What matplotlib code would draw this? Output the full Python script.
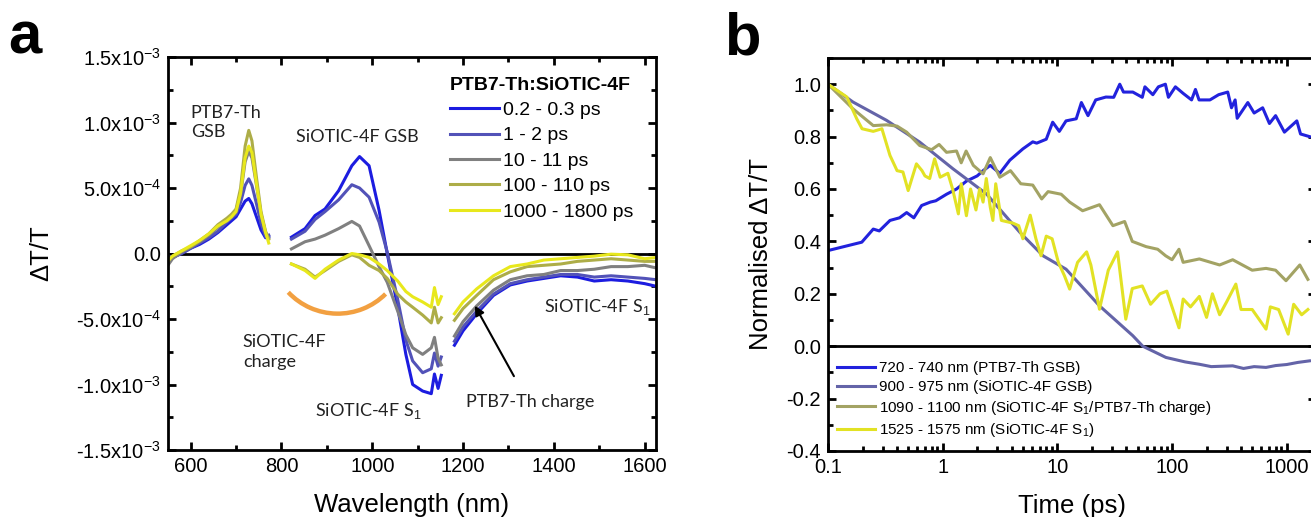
import numpy as np
import matplotlib
matplotlib.use("Agg")
import matplotlib.pyplot as plt
from matplotlib.patches import Arc
from matplotlib.ticker import FixedLocator, MultipleLocator, LogLocator, NullFormatter

plt.rcParams["font.family"] = ["Liberation Sans", "DejaVu Sans"]
plt.rcParams["mathtext.fontset"] = "custom"
plt.rcParams["mathtext.rm"] = "Liberation Sans"
plt.rcParams["mathtext.it"] = "Liberation Sans:italic"
plt.rcParams["mathtext.bf"] = "Liberation Sans:bold"

# ---------------- panel a: spectra (values in units of 1e-4) ----------------
DELAYS = ["0.2 - 0.3 ps", "1 - 2 ps", "10 - 11 ps", "100 - 110 ps", "1000 - 1800 ps"]
COLORS_A = ["#1c1ce0", "#5252b8", "#808080", "#adad48", "#e8e81c"]

wl_vis = [552, 560, 580, 600, 620, 640, 660, 680, 690, 700, 710, 720, 728, 735, 745, 755, 765, 772]
vis_0 = [-0.2, -0.3, 0.0, 0.4, 0.7, 1.1, 1.6, 2.2, 2.5, 2.8, 3.4, 4.0, 4.2, 3.8, 2.8, 1.8, 1.2, 1.3]
vis_1 = [-0.2, -0.3, 0.0, 0.4, 0.8, 1.2, 1.7, 2.4, 2.7, 3.0, 3.9, 5.2, 5.7, 5.2, 3.8, 2.3, 1.3, 1.4]
vis_2 = [-0.8, -0.4, 0.1, 0.5, 0.9, 1.4, 2.0, 2.6, 2.9, 3.3, 4.5, 7.0, 7.8, 7.3, 5.2, 3.0, 1.6, 1.2]
vis_3 = [-0.4, -0.2, 0.2, 0.5, 1.0, 1.5, 2.2, 2.7, 3.0, 3.4, 5.0, 8.2, 9.4, 8.6, 5.8, 3.2, 1.7, 1.1]
vis_4 = [-0.5, -0.2, 0.2, 0.6, 1.0, 1.5, 2.1, 2.5, 2.8, 3.2, 4.6, 7.3, 8.2, 7.7, 5.3, 3.0, 1.6, 0.8]

wl_nir1 = [822, 852, 874, 896, 926, 955, 972, 993, 1015, 1033, 1056, 1074, 1089, 1111, 1130, 1137, 1145, 1152]
nir1_0 = [1.25, 1.9, 2.9, 3.4, 4.8, 6.7, 7.4, 6.7, 3.3, 0.0, -4.1, -7.7, -10.0, -10.5, -10.7, -9.2, -10.3, -9.3]
nir1_1 = [1.1, 1.7, 2.6, 3.2, 4.1, 5.25, 5.0, 4.3, 2.4, 0.1, -3.5, -6.6, -8.2, -9.1, -8.8, -7.6, -8.6, -7.9]
nir1_2 = [0.35, 0.9, 1.1, 1.4, 1.9, 2.45, 2.1, 0.6, -1.0, -2.2, -4.4, -6.2, -7.2, -7.7, -7.2, -6.4, -8.0, -8.5]
nir1_3 = [-0.8, -1.2, -1.8, -1.3, -0.6, -0.1, -0.3, -0.9, -1.3, -1.9, -3.1, -3.7, -4.1, -4.7, -5.3, -4.1, -5.3, -4.9]
nir1_4 = [-0.8, -1.3, -1.9, -1.2, -0.5, 0.0, -0.1, -0.3, -0.8, -1.3, -2.1, -2.9, -3.3, -3.7, -4.1, -2.6, -3.9, -3.3]

wl_nir2 = [1181, 1200, 1230, 1267, 1304, 1341, 1378, 1415, 1452, 1489, 1526, 1563, 1600, 1625]
nir2_0 = [-7.0, -5.9, -4.6, -3.2, -2.4, -2.1, -1.9, -1.7, -1.8, -2.1, -2.0, -2.1, -2.3, -2.5]
nir2_1 = [-6.7, -5.6, -4.4, -3.1, -2.3, -2.0, -1.8, -1.6, -1.6, -1.8, -1.7, -1.8, -1.9, -2.0]
nir2_2 = [-6.3, -5.2, -4.0, -2.8, -2.0, -1.7, -1.6, -1.3, -1.3, -1.2, -1.0, -1.0, -0.9, -1.1]
nir2_3 = [-5.1, -4.2, -3.2, -2.0, -1.4, -1.0, -0.9, -0.8, -0.6, -0.5, -0.4, -0.5, -0.6, -0.6]
nir2_4 = [-4.6, -3.7, -2.7, -1.7, -1.0, -0.8, -0.5, -0.4, -0.3, -0.2, -0.05, -0.1, -0.4, -0.3]

VIS = [vis_0, vis_1, vis_2, vis_3, vis_4]
NIR1 = [nir1_0, nir1_1, nir1_2, nir1_3, nir1_4]
NIR2 = [nir2_0, nir2_1, nir2_2, nir2_3, nir2_4]

# ---------------- panel b: kinetics ----------------
KIN_LABELS = ["720 - 740 nm (PTB7-Th GSB)",
              "900 - 975 nm (SiOTIC-4F GSB)",
              "1090 - 1100 nm (SiOTIC-4F S$_1$/PTB7-Th charge)",
              "1525 - 1575 nm (SiOTIC-4F S$_1$)"]
COLORS_B = ["#2222dd", "#6464a8", "#a3a364", "#e2e224"]

t_gsb = [0.1, 0.197, 0.248, 0.28, 0.347, 0.42, 0.485, 0.56, 0.655, 0.78, 0.87, 1.08, 1.32, 1.61, 2.0, 2.25,
         2.6, 3.15, 3.85, 5.0, 6.1, 6.6, 8.0, 9.1, 10.4, 11.9, 14.6, 16.2, 18.5, 21.6, 26.5, 31, 35.0, 37.7,
         45.5, 55, 58, 68, 76, 87.5, 93, 107, 125, 148, 160, 172, 214, 255, 306, 330, 355, 370, 458, 520,
         617, 707, 800, 955, 1225, 1320, 1580]
k_gsb = [0.365, 0.397, 0.447, 0.44, 0.48, 0.49, 0.51, 0.49, 0.537, 0.55, 0.555, 0.58, 0.6, 0.63, 0.65, 0.67,
         0.69, 0.66, 0.71, 0.753, 0.78, 0.775, 0.79, 0.855, 0.82, 0.86, 0.868, 0.93, 0.88, 0.94, 0.951, 0.95,
         1.0, 0.97, 0.97, 0.95, 0.99, 0.96, 0.99, 1.0, 0.95, 0.99, 0.965, 0.94, 0.98, 0.94, 0.94, 0.96, 0.97,
         0.91, 0.94, 0.87, 0.93, 0.89, 0.91, 0.85, 0.88, 0.817, 0.86, 0.81, 0.80]

t_acc = [0.1, 0.165, 0.324, 0.63, 1.23, 2.41, 4.7, 7.5, 11.9, 23.3, 45.5, 55.5, 88.5, 130, 173, 220, 338,
         420, 520, 660, 800, 1000, 1250, 1580]
k_acc = [1.0, 0.932, 0.862, 0.779, 0.677, 0.581, 0.435, 0.345, 0.294, 0.154, 0.04, 0.0, -0.043, -0.06,
         -0.069, -0.078, -0.075, -0.085, -0.078, -0.081, -0.074, -0.07, -0.062, -0.056]

t_s1c = [0.1, 0.165, 0.248, 0.324, 0.4, 0.485, 0.63, 0.8, 0.93, 1.08, 1.32, 1.45, 1.6, 1.85, 2.25, 2.6,
         3.15, 3.9, 4.8, 6.1, 7.3, 8.3, 10.8, 12.8, 16.6, 23.3, 30.5, 38.6, 45, 59.4, 75, 88, 100, 115, 125,
         173, 260, 338, 500, 660, 800, 986, 1300, 1530]
k_s1c = [1.0, 0.906, 0.842, 0.845, 0.84, 0.817, 0.766, 0.75, 0.77, 0.74, 0.745, 0.70, 0.745, 0.69, 0.658,
         0.72, 0.645, 0.67, 0.62, 0.615, 0.562, 0.59, 0.58, 0.55, 0.517, 0.54, 0.46, 0.476, 0.40, 0.38,
         0.37, 0.345, 0.33, 0.37, 0.32, 0.333, 0.31, 0.33, 0.29, 0.297, 0.29, 0.25, 0.31, 0.255]

t_s1 = [0.1, 0.146, 0.178, 0.198, 0.248, 0.295, 0.347, 0.4, 0.45, 0.5, 0.59, 0.66, 0.7, 0.77, 0.85, 0.95,
        1.11, 1.22, 1.37, 1.45, 1.61, 1.75, 1.95, 2.1, 2.25, 2.4, 2.6, 2.74, 2.9, 3.25, 4.08, 4.6, 5.0, 5.8,
        6.5, 7.2, 8.0, 9.0, 10.2, 11.5, 12.8, 15, 18, 19.6, 23.3, 27.8, 33.5, 39.5, 45, 55, 65, 78.5, 90,
        115, 125, 145, 173, 200, 225, 260, 300, 360, 400, 500, 660, 720, 850, 1030, 1150, 1350, 1530]
k_s1 = [1.0, 0.951, 0.868, 0.83, 0.82, 0.83, 0.728, 0.67, 0.665, 0.594, 0.696, 0.67, 0.65, 0.64, 0.715,
        0.645, 0.66, 0.6, 0.505, 0.62, 0.498, 0.6, 0.52, 0.6, 0.55, 0.64, 0.53, 0.48, 0.62, 0.48, 0.47,
        0.46, 0.41, 0.50, 0.41, 0.345, 0.42, 0.41, 0.32, 0.27, 0.218, 0.32, 0.36, 0.31, 0.141, 0.29, 0.36,
        0.103, 0.22, 0.23, 0.16, 0.2, 0.21, 0.07, 0.18, 0.15, 0.19, 0.11, 0.2, 0.12, 0.17, 0.237, 0.14,
        0.14, 0.065, 0.15, 0.14, 0.046, 0.16, 0.12, 0.14]

KIN_T = [t_gsb, t_acc, t_s1c, t_s1]
KIN_Y = [k_gsb, k_acc, k_s1c, k_s1]

# orange guide arc for the SiOTIC-4F charge band (data units of panel a)
ARC_CENTER = (924, 0.54e-4)
ARC_W, ARC_H = 298, 10.26e-4
ARC_SPAN = (223, 315)  # on-screen angles of the arc ends


def data_angle(phi_deg, w, h):
    # Arc stretches angles given in data space; convert a screen angle back
    phi = np.deg2rad(phi_deg)
    return np.rad2deg(np.arctan2(h * np.sin(phi), w * np.cos(phi))) % 360


fig = plt.figure(figsize=(13.11, 5.17), dpi=100)
ax_a = fig.add_axes([0.1281, 0.1296, 0.3723, 0.7601])
ax_b = fig.add_axes([0.6316, 0.1277, 0.3722, 0.7601])


def style_axes(ax):
    for sp in ax.spines.values():
        sp.set_linewidth(2.0)
    ax.tick_params(which="both", direction="in", top=True, right=True, width=2.0,
                   labelsize=14.5, pad=5)
    ax.tick_params(which="major", length=6)
    ax.tick_params(which="minor", length=3.5)


# ---- panel a ----
for i in range(5):
    sc = 1e-4
    ax_a.plot(wl_vis, [v * sc for v in VIS[i]], color=COLORS_A[i], lw=2.2, label=DELAYS[i])
    ax_a.plot(wl_nir1, [v * sc for v in NIR1[i]], color=COLORS_A[i], lw=2.2)
    ax_a.plot(wl_nir2, [v * sc for v in NIR2[i]], color=COLORS_A[i], lw=2.2)
ax_a.axhline(0, color="black", lw=2.0, zorder=1)
ax_a.set_xlim(550, 1625)
ax_a.set_ylim(-1.5e-3, 1.5e-3)
ax_a.xaxis.set_major_locator(MultipleLocator(200))
ax_a.xaxis.set_minor_locator(MultipleLocator(100))
yt = [-1.5e-3, -1.0e-3, -5e-4, 0, 5e-4, 1.0e-3, 1.5e-3]
ax_a.yaxis.set_major_locator(FixedLocator(yt))
ax_a.set_yticklabels(["-1.5x10$^{-3}$", "-1.0x10$^{-3}$", "-5.0x10$^{-4}$", "0.0",
                      "5.0x10$^{-4}$", "1.0x10$^{-3}$", "1.5x10$^{-3}$"])
ax_a.yaxis.set_minor_locator(MultipleLocator(2.5e-4))
style_axes(ax_a)
ax_a.set_xlabel("Wavelength (nm)", fontsize=18.5, labelpad=12)
ax_a.set_ylabel("\u0394T/T", fontsize=18.5, labelpad=16)

ann = dict(fontsize=13, family=["Lato", "DejaVu Sans"], color="#222222")
ax_a.text(600, 10.0e-4, "PTB7-Th\nGSB", ha="left", va="center", linespacing=1.3, **ann)
ax_a.text(833, 8.9e-4, "SiOTIC-4F GSB", ha="left", va="center", **ann)
ax_a.text(715, -7.5e-4, "SiOTIC-4F\ncharge", ha="left", va="center", linespacing=1.3, **ann)
ax_a.text(873, -12.0e-4, "SiOTIC-4F S$_1$", ha="left", va="center", **ann)
ax_a.text(1378, -4.1e-4, "SiOTIC-4F S$_1$", ha="left", va="center", **ann)
ax_a.annotate("PTB7-Th charge", xy=(1226, -3.98e-4), xytext=(1206, -11.3e-4),
              ha="left", va="center", **ann,
              arrowprops=dict(arrowstyle="-|>", color="black", lw=1.5,
                              shrinkA=12, shrinkB=0, mutation_scale=14,
                              relpos=(0.45, 1.0)))
ax_a.add_patch(Arc(ARC_CENTER, ARC_W, ARC_H,
                   theta1=data_angle(ARC_SPAN[0], ARC_W, ARC_H),
                   theta2=data_angle(ARC_SPAN[1], ARC_W, ARC_H),
                   edgecolor="#f2a041", lw=3.2, zorder=3))

leg_a = ax_a.legend(loc="upper left", bbox_to_anchor=(0.578, 0.95), frameon=False,
                    fontsize=14, handlelength=2.5, handletextpad=0.2, labelspacing=0.40,
                    borderaxespad=0, borderpad=0, title="PTB7-Th:SiOTIC-4F",
                    title_fontproperties={"weight": "bold", "size": 14})
leg_a._legend_box.align = "left"

fig.text(0.006, 0.897, "a", fontsize=43, fontweight="bold", va="baseline")
fig.text(0.552, 0.894, "b", fontsize=43, fontweight="bold", va="baseline")

# ---- panel b ----
for i in range(4):
    ax_b.plot(KIN_T[i], KIN_Y[i], color=COLORS_B[i], lw=2.2, label=KIN_LABELS[i])
ax_b.axhline(0, color="black", lw=2.0, zorder=1)
ax_b.set_xscale("log")
ax_b.set_xlim(0.1, 1800)
ax_b.set_ylim(-0.4, 1.1)
ax_b.xaxis.set_major_locator(FixedLocator([0.1, 1, 10, 100, 1000]))
ax_b.set_xticklabels(["0.1", "1", "10", "100", "1000"])
ax_b.xaxis.set_minor_locator(LogLocator(base=10, subs=range(2, 10)))
ax_b.xaxis.set_minor_formatter(NullFormatter())
ax_b.yaxis.set_major_locator(MultipleLocator(0.2))
ax_b.yaxis.set_minor_locator(MultipleLocator(0.1))
ax_b.yaxis.set_major_formatter(matplotlib.ticker.FormatStrFormatter("%.1f"))
style_axes(ax_b)
ax_b.set_xlabel("Time (ps)", fontsize=18.5, labelpad=12)
ax_b.set_ylabel("Normalised \u0394T/T", fontsize=18.5, labelpad=10)
ax_b.legend(loc="lower left", bbox_to_anchor=(0.018, 0.03), frameon=False, fontsize=11,
            handlelength=2.5, handletextpad=0.25, labelspacing=0.3, borderaxespad=0,
            borderpad=0)

fig.savefig("out.png", dpi=100)
